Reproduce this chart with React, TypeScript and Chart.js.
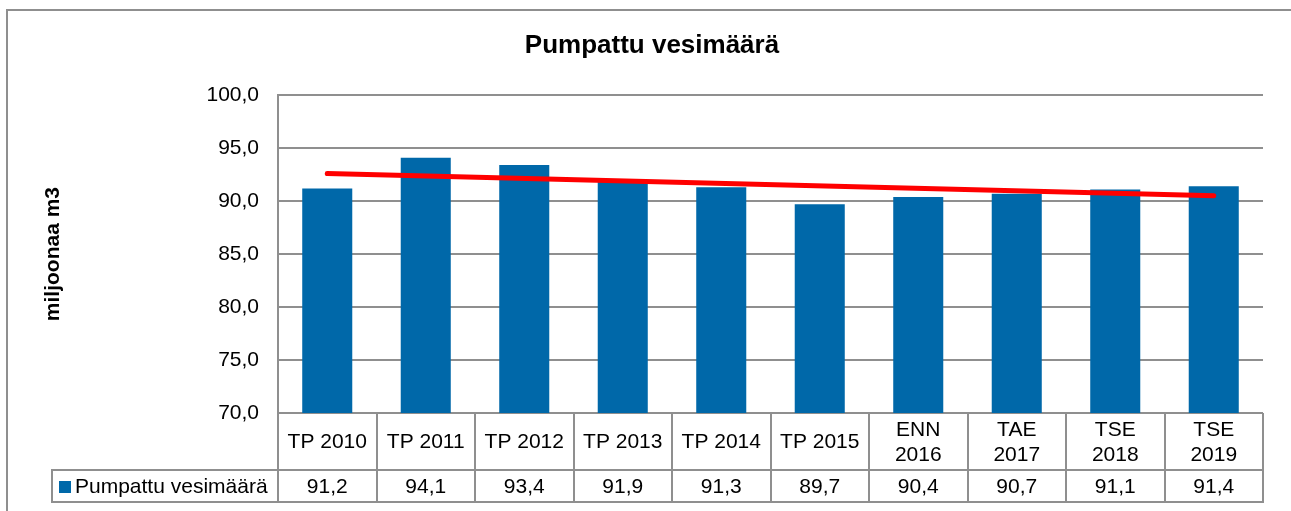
import React, { useEffect, useRef } from 'react';
import { Chart, registerables } from 'chart.js';

Chart.register(...registerables);

// ---- data ----
const chartTitle = 'Pumpattu vesimäärä';
const seriesLabel = 'Pumpattu vesimäärä';
const yAxisTitle = 'miljoonaa m3';
const categories: string[][] = [
  ['TP 2010'],
  ['TP 2011'],
  ['TP 2012'],
  ['TP 2013'],
  ['TP 2014'],
  ['TP 2015'],
  ['ENN', '2016'],
  ['TAE', '2017'],
  ['TSE', '2018'],
  ['TSE', '2019'],
];
const pumpedValues = [91.2, 94.1, 93.4, 91.9, 91.3, 89.7, 90.4, 90.7, 91.1, 91.4];
// linear trend line: read at first and last category only
const trendValues: (number | null)[] = [92.6, null, null, null, null, null, null, null, null, 90.5];
const yMin = 70;
const yMax = 100;
const yStep = 5;

// ---- styles ----
const FONT = '"Liberation Sans", Arial, sans-serif';
const BAR_COLOR = '#0068A9';
const TREND_COLOR = '#FF0000';
const GRID_COLOR = '#8f8f8f';
const fmt = (v: number) => v.toFixed(1).replace('.', ',');

const framePlugin = {
  id: 'frame',
  beforeDraw(chart: any) {
    const { ctx } = chart;
    ctx.save();
    ctx.strokeStyle = GRID_COLOR;
    ctx.lineWidth = 2;
    ctx.beginPath();
    ctx.moveTo(7, chart.height + 5);
    ctx.lineTo(7, 10);
    ctx.lineTo(chart.width + 5, 10);
    ctx.stroke();
    ctx.restore();
  },
};

const tablePlugin = {
  id: 'dataTable',
  afterDraw(chart: any) {
    const { ctx, chartArea } = chart;
    const x = chart.scales.x;
    const top = chartArea.bottom;
    const row1 = top + 57;
    const row2 = row1 + 32;
    const legendLeft = 52;
    const n = categories.length;
    ctx.save();
    ctx.strokeStyle = GRID_COLOR;
    ctx.lineWidth = 2;
    ctx.beginPath();
    for (let i = 0; i <= n; i++) {
      const px = Math.round(x.getPixelForValue(i - 0.5));
      ctx.moveTo(px, top);
      ctx.lineTo(px, row2);
    }
    const right = Math.round(x.getPixelForValue(n - 0.5));
    ctx.moveTo(legendLeft, row1);
    ctx.lineTo(right + 1, row1);
    ctx.moveTo(legendLeft, row2);
    ctx.lineTo(right + 1, row2);
    ctx.moveTo(legendLeft, row1 - 1);
    ctx.lineTo(legendLeft, row2 + 1);
    ctx.stroke();

    ctx.fillStyle = '#000';
    ctx.font = `21px ${FONT}`;
    ctx.textAlign = 'center';
    ctx.textBaseline = 'middle';
    const lh = 25;
    const mid1 = (top + row1) / 2 + 1;
    categories.forEach((lines, i) => {
      const cx = x.getPixelForValue(i);
      const y0 = mid1 - ((lines.length - 1) * lh) / 2;
      lines.forEach((t, j) => ctx.fillText(t, cx, y0 + j * lh));
    });
    const mid2 = (row1 + row2) / 2 + 1;
    const ds = chart.data.datasets.find((d: any) => d.type === 'bar');
    pumpedValues.forEach((v, i) => {
      ctx.fillText(fmt(v), x.getPixelForValue(i), mid2);
    });
    // legend key
    ctx.fillStyle = ds.backgroundColor;
    ctx.fillRect(legendLeft + 7, mid2 - 6, 12, 12);
    ctx.fillStyle = '#000';
    ctx.textAlign = 'left';
    ctx.fillText(ds.label, legendLeft + 23, mid2);
    ctx.restore();
  },
};

export default function App() {
  const canvasRef = useRef<HTMLCanvasElement | null>(null);

  useEffect(() => {
    document.body.style.margin = '0';
    const canvas = canvasRef.current;
    if (!canvas) return;
    const chart = new Chart(canvas, {
      type: 'bar',
      data: {
        labels: categories,
        datasets: [
          {
            type: 'line',
            label: 'Trend',
            data: trendValues,
            borderColor: TREND_COLOR,
            backgroundColor: TREND_COLOR,
            borderWidth: 5,
            borderCapStyle: 'round',
            pointRadius: 0,
            tension: 0,
            spanGaps: true,
            order: 0,
          } as any,
          {
            type: 'bar',
            label: seriesLabel,
            data: pumpedValues,
            backgroundColor: BAR_COLOR,
            borderWidth: 0,
            barPercentage: 0.508,
            categoryPercentage: 1,
            order: 1,
          },
        ],
      },
      options: {
        responsive: false,
        maintainAspectRatio: false,
        animation: false,
        devicePixelRatio: 1,
        layout: { padding: { left: 41, right: 28, top: 0, bottom: 98 } },
        plugins: {
          legend: { display: false },
          tooltip: { enabled: false },
          title: {
            display: true,
            text: chartTitle,
            color: '#000',
            font: { family: FONT, size: 26, weight: 'bold' },
            padding: { top: 30, bottom: 34 },
          },
        },
        scales: {
          x: {
            display: false,
            offset: true,
          },
          y: {
            min: yMin,
            max: yMax,
            afterFit: (s: any) => {
              s.width = 237;
            },
            ticks: {
              stepSize: yStep,
              color: '#000',
              font: { family: FONT, size: 21 },
              padding: 19,
              callback: (v: any) => fmt(Number(v)),
            },
            grid: { color: GRID_COLOR, lineWidth: 2, drawTicks: false },
            border: { display: true, color: GRID_COLOR, width: 2 },
            title: {
              display: true,
              text: yAxisTitle,
              color: '#000',
              font: { family: FONT, size: 21, weight: 'bold' },
              padding: { top: 0, bottom: 0 },
            },
          },
        },
      },
      plugins: [framePlugin, tablePlugin],
    });
    return () => chart.destroy();
  }, []);

  return (
    <div style={{ width: 1291, height: 511 }}>
      <canvas ref={canvasRef} width={1291} height={511} style={{ display: 'block' }} />
    </div>
  );
}
